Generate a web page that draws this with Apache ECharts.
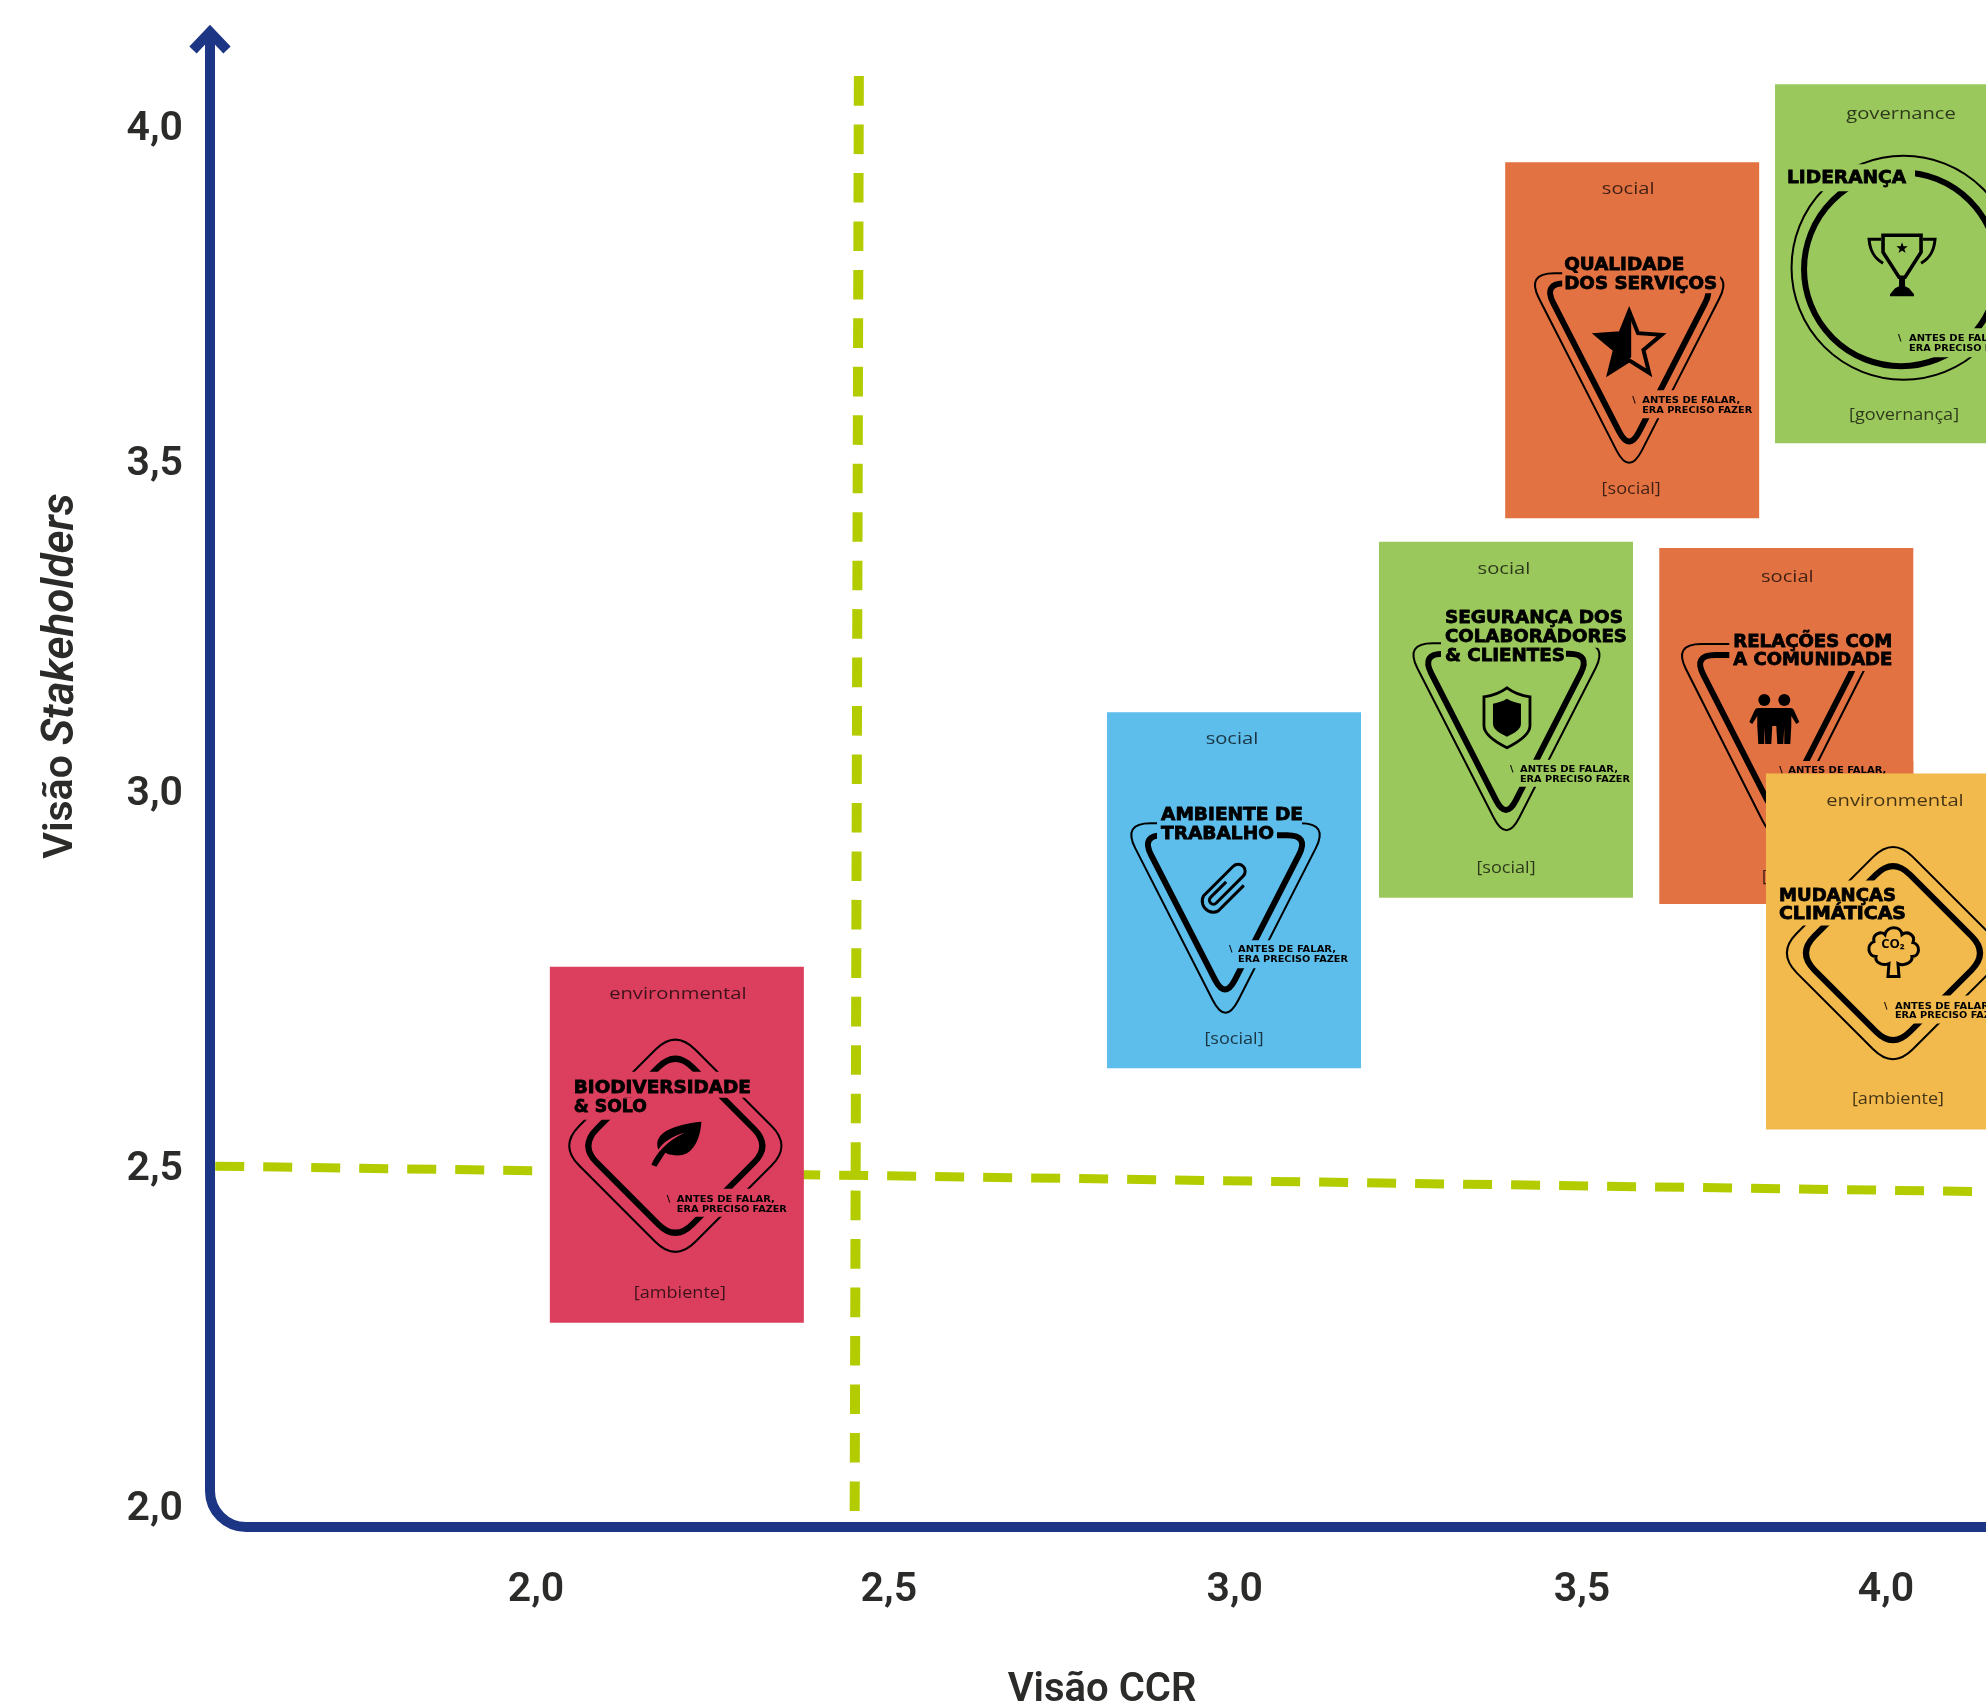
<!DOCTYPE html>
<html><head><meta charset="utf-8">
<style>html,body{margin:0;padding:0;background:#fff;overflow:hidden}#c{width:1986px;height:1706px}</style>
<script src="https://cdn.jsdelivr.net/npm/echarts@6/dist/echarts.min.js"></script>
</head><body><div id="c"></div>
<script>
// ---- data ----
const xTickLabels = ['2,0','2,5','3,0','3,5','4,0'];
const xTickValues = [2.0, 2.506, 3.002, 3.5, 3.936];
const yTickLabels = ['2,0','2,5','3,0','3,5','4,0'];
const yTickValues = [1.993, 2.486, 3.029, 3.507, 3.993];
const cardX = [2.202, 3.001, 3.391, 3.572, 3.959, 3.793, 3.946];
const cardY = [2.522, 2.891, 3.138, 3.688, 3.799, 3.129, 2.802];
const cardTitles = [
  ['BIODIVERSIDADE','& SOLO'],
  ['AMBIENTE DE','TRABALHO'],
  ['SEGURANÇA DOS','COLABORADORES','& CLIENTES'],
  ['QUALIDADE','DOS SERVIÇOS'],
  ['LIDERANÇA'],
  ['RELAÇÕES COM','A COMUNIDADE'],
  ['MUDANÇAS','CLIMÁTICAS']
];
const cardTop = ['environmental','social','social','social','governance','social','environmental'];
const cardBottom = ['[ambiente]','[social]','[social]','[social]','[governança]','[social]','[ambiente]'];
const cardColors = ['#DC3F5D','#5DBDEB','#9BC85C','#E37243','#9BC85C','#E37243','#F2B94C'];
const vRefX = [2.463, 2.457];
const vRefY = [4.071, 1.991];
const hRefX = [1.540, 4.079];
const hRefY = [2.491, 2.454];
const taglineLines = ['ANTES DE FALAR,','ERA PRECISO FAZER'];

// ---- axis ranges and styles ----
const xMin = 1.5325, xMax = 4.0794, yMin = 1.968, yMax = 4.145;
const NAVY = '#1C3584', LIME = '#B2CC00', INK = '#2B2B2A';
const CW = 254, CH = 356, TEXT_DY = 1.5;

function roundedPoly(pts, d) {
  const n = pts.length; let s = '';
  for (let i = 0; i < n; i++) {
    const p = pts[i], a = pts[(i + n - 1) % n], b = pts[(i + 1) % n];
    const la = Math.hypot(a[0]-p[0], a[1]-p[1]), lb = Math.hypot(b[0]-p[0], b[1]-p[1]);
    const s1 = [p[0]+(a[0]-p[0])*d/la, p[1]+(a[1]-p[1])*d/la];
    const s2 = [p[0]+(b[0]-p[0])*d/lb, p[1]+(b[1]-p[1])*d/lb];
    s += (i ? 'L' : 'M') + s1[0] + ' ' + s1[1] + 'Q' + p[0] + ' ' + p[1] + ' ' + s2[0] + ' ' + s2[1];
  }
  return s + 'Z';
}
const tri = (cx, top, hw, h, d) => roundedPoly([[cx-hw,top],[cx+hw,top],[cx,top+h]], d);
const dia = (cx, cy, h, d) => roundedPoly([[cx,cy-h],[cx+h,cy],[cx,cy+h],[cx-h,cy]], d);

function starPts(R, r) {
  const out = [];
  for (let i = 0; i < 10; i++) {
    const a = (-90 + 36*i) * Math.PI/180, q = i % 2 ? r : R;
    out.push([q*Math.cos(a), q*Math.sin(a)]);
  }
  return out;
}
const polyPath = pts => 'M' + pts.map(p => p[0] + ' ' + p[1]).join('L') + 'Z';
const ICON_STYLES = {f:{fill:'#000'}, s:w=>({fill:'none',stroke:'#000',lineWidth:w})};

function icon(type, x, y) {
  const P = (d, style, extra) => Object.assign({type:'path', x, y, shape:{pathData:d}, style}, extra||{});
  const sp = starPts;
  if (type === 'star') {
    const o = sp(34, 15);
    return [P(polyPath(o), ICON_STYLES.s(4)), P(polyPath([[2,o[0][1]],o[9],o[8],o[7],o[6],[2,o[5][1]-3]]), ICON_STYLES.f)];
  }
  if (type === 'trophy') return [
    P('M-19 -29L19 -29L19 -12L3 13L-3 13L-19 -12Z', ICON_STYLES.s(3.6)),
    P(polyPath(sp(6,2.4).map(p=>[p[0],p[1]-16])), ICON_STYLES.f),
    P('M-3 12L3 12L3 22L7 24L12 30L12 32L-12 32L-12 30L-7 24L-3 22Z', ICON_STYLES.f),
    P('M-21 -25L-33 -25C-32 -13 -28 -6 -19 -1', ICON_STYLES.s(3)),
    P('M21 -25L33 -25C32 -13 28 -6 19 -1', ICON_STYLES.s(3))
  ];
  if (type === 'shield') return [
    P('M0 -30C8 -24 16 -22 23 -21L23 8C23 17 10 25 0 30C-10 25 -23 17 -23 8L-23 -21C-16 -22 -8 -24 0 -30Z', ICON_STYLES.s(2.8)),
    P('M0 -19C5 -16 10 -15 14 -14L14 6C14 12 6 16 0 19C-6 16 -14 12 -14 6L-14 -14C-10 -15 -5 -16 0 -19Z', ICON_STYLES.f)
  ];
  if (type === 'people') return [
    {type:'circle', x, y, shape:{cx:-10,cy:-19,r:6}, style:ICON_STYLES.f},
    {type:'circle', x, y, shape:{cx:10,cy:-19,r:6}, style:ICON_STYLES.f},
    P('M-16 -11L16 -11Q19 -11 20 -8L25 3L22 5L17 -3L17 7L16 25L10 25L10 8L9 25L3 25L2 7L-2 7L-3 25L-9 25L-10 8L-10 25L-16 25L-17 7L-17 -3L-22 5L-25 3L-20 -8Q-19 -11 -16 -11Z', ICON_STYLES.f)
  ];
  if (type === 'clip') return [
    P('M6 -3L-16 -3A4 4 0 0 0 -16 5L22 5A7 7 0 0 0 22 -9L-20 -9A11 11 0 0 0 -20 12L16 12', ICON_STYLES.s(3), {rotation:Math.PI*0.25})
  ];
  if (type === 'leaf') return [
    P('M25 -23C24 -4 15 15 -5 10C-7 10 -9 9 -11 8L-20 22L-25 20C-20 8 -10 -3 8 -12C-5 -8 -14 -2 -18 5C-24 -12 -3 -20 25 -23Z', ICON_STYLES.f)
  ];
  if (type === 'cloud') return [
    P('M-5 29L-4 16C-12 19 -18 14 -17 9C-25 9 -27 -3 -19 -6C-21 -14 -11 -17 -8 -13C-6 -22 8 -22 9 -13C14 -17 23 -13 20 -5C28 -3 27 9 19 9C20 15 11 19 5 16L6 29Z', ICON_STYLES.s(3)),
    {type:'text', x, y:y-3, style:{text:'CO₂', font:'bold 13px "Open Sans"', fill:'#000', align:'center', verticalAlign:'middle'}}
  ];
  return [];
}

const layouts = [
 { top:[128,26], bot:[130,325], tx:24, lines:[[177,120],[73,139]],
   tag:{s:117,l:127,y:231,dy:10}, icon:['leaf',126.5,178],
   cuts:[[18,105,189,26],[15,131,150,22],[112,222,128,28]],
   badge:[dia(125.5,179,116,28), dia(125.5,179,95.5,24)] },
 { top:[125,26], bot:[127,326], tx:54, lines:[[142,102],[113,121]],
   tag:{s:122,l:131,y:236,dy:10}, icon:['clip',117,176],
   cuts:[[50,90,145,23],[50,113,120,20],[118,228,132,28]],
   badge:[tri(118.5,111,103,202,28), tri(118,123,84,164,22)] },
 { top:[125,26], bot:[127,325], tx:66, lines:[[178,75.5],[182,94],[120,113]],
   tag:{s:131,l:141,y:226,dy:10}, icon:['shield',128,176],
   cuts:[[62,95,157,11],[62,106,125,15],[125,218,128,27]],
   badge:[tri(127.5,101.5,101.8,199.5,28), tri(127,112,84.7,166,22)] },
 { top:[123,26], bot:[126,326], tx:59, lines:[[120,102],[153,121]],
   tag:{s:127,l:137,y:237,dy:10}, icon:['star',124,183],
   cuts:[[57,92,158,39],[120,228,130,28]],
   badge:[tri(124,111,103,202,28), tri(124,121,86,168,22)] },
 { top:[126,29], bot:[129,330], tx:12, lines:[[119,93]], h:359,
   tag:{s:123,l:134,y:253,dy:9.5}, icon:['trophy',127,180],
   cuts:[[5,80,135,27],[118,244,136,29]],
   circles:[[128.5,183.5,112,2],[126,185,97,6]] },
 { top:[128,28], bot:[132,328], tx:74, lines:[[159,93],[159,111]],
   tag:{s:120,l:129,y:221,dy:10}, icon:['people',115,171],
   cuts:[[70,78,170,45],[115,213,139,27]],
   badge:[tri(116,96,102,202,28), tri(117.5,107,83.5,164,22)] },
 { top:[129,26], bot:[132,324], tx:13, lines:[[117,121],[127,139]],
   tag:{s:118,l:129,y:231,dy:9.5}, icon:['cloud',127,174],
   cuts:[[10,107,135,45],[113,222,141,28]],
   badge:[dia(127,179.5,116,28), dia(127,179.5,95.5,24)] }
];

const measure = document.createElement('canvas').getContext('2d');
function fitted(text, font, width, x, y, extra) {
  measure.font = font;
  const k = width / measure.measureText(text).width;
  return Object.assign({type:'text', x, y:y+TEXT_DY, scaleX:k,
    style:{text, font, fill:'#000', align:'left', verticalAlign:'middle'}}, extra||{});
}
const TITLE_FONT = 'bold 18px "DejaVu Sans"';
const TAG_FONT = 'bold 9.5px "DejaVu Sans"';
const SMALL_FONT = '16px "Open Sans"';
const SMALL_FILL = 'rgba(0,0,0,0.72)';

function renderCard(params, api) {
  const i = params.dataIndex, L = layouts[i], col = cardColors[i];
  const c = api.coord([api.value(0), api.value(1)]);
  const h = L.h || CH;
  const kids = [{type:'rect', shape:{x:0,y:0,width:CW,height:h}, style:{fill:col}}];
  const smallText = (t, p, k) => ({type:'text', x:p[0], y:p[1]+TEXT_DY, scaleX:k,
    style:{text:t, font:SMALL_FONT, fill:SMALL_FILL, align:'center', verticalAlign:'middle'}});
  kids.push(smallText(cardTop[i], L.top, 1.26), smallText(cardBottom[i], L.bot, 1.13));
  if (L.badge) {
    kids.push({type:'path', shape:{pathData:L.badge[0]}, style:{fill:'none',stroke:'#000',lineWidth:2}});
    kids.push({type:'path', shape:{pathData:L.badge[1]}, style:{fill:'none',stroke:'#000',lineWidth:6}});
  }
  if (L.circles) L.circles.forEach(q => kids.push({type:'circle', shape:{cx:q[0],cy:q[1],r:q[2]},
    style:{fill:'none',stroke:'#000',lineWidth:q[3]}}));
  L.cuts.forEach(q => kids.push({type:'rect', shape:{x:q[0],y:q[1],width:q[2],height:q[3]}, style:{fill:col}}));
  icon(L.icon[0], L.icon[1], L.icon[2]).forEach(k => kids.push(k));
  cardTitles[i].forEach((t, j) => {
    const el = fitted(t, TITLE_FONT, L.lines[j][0], L.tx, L.lines[j][1]);
    el.style.stroke = '#000'; el.style.lineWidth = 0.8;
    kids.push(el);
  });
  kids.push({type:'text', x:L.tag.s, y:L.tag.y+TEXT_DY, style:{text:'\\', font:TAG_FONT, fill:'#000', align:'left', verticalAlign:'middle'}});
  kids.push(fitted(taglineLines[0], TAG_FONT, 98, L.tag.l, L.tag.y));
  kids.push(fitted(taglineLines[1], TAG_FONT, 110, L.tag.l, L.tag.y + L.tag.dy));
  return {type:'group', x:c[0]-CW/2, y:c[1]-h/2, children:kids};
}

function renderFrame(params, api) {
  const o = api.coord([xMin, yMin]), t = api.coord([xMin, yMax]), e = api.coord([xMax, yMin]);
  const r = 36;
  const x = o[0], y = o[1];
  return {type:'group', children:[
    {type:'path', shape:{pathData:`M${x} ${t[1]+10}L${x} ${y-r}A${r} ${r} 0 0 0 ${x+r} ${y}L${e[0]} ${y}`},
     style:{fill:'none', stroke:NAVY, lineWidth:10}},
    {type:'path', shape:{pathData:`M${x-17} ${t[1]+25}L${x} ${t[1]+7}L${x+17} ${t[1]+25}`},
     style:{fill:'none', stroke:NAVY, lineWidth:10, lineJoin:'miter', miterLimit:4}}
  ]};
}

const labelFont = {fontFamily:'Roboto', fontSize:41, fontWeight:600, color:INK};
const xNameFont = {fontFamily:'Roboto', fontSize:40, fontWeight:600, color:INK};
const yNameFont = {fontFamily:'Roboto', fontSize:41, fontWeight:600, color:INK};

const chart = echarts.init(document.getElementById('c'), null, {renderer:'canvas', width:1986, height:1706});
chart.setOption({
  animation:false,
  backgroundColor:'#fff',
  grid:{left:210, right:0, top:25, bottom:179, containLabel:false, outerBoundsMode:'none'},
  xAxis:{type:'value', min:xMin, max:xMax, name:'Visão CCR', nameLocation:'middle', nameGap:144,
    nameTextStyle:Object.assign({padding:[0,0,0,8]}, xNameFont), axisLine:{show:false}, axisTick:{show:false}, splitLine:{show:false},
    axisLabel:Object.assign({margin:43, customValues:xTickValues,
      formatter:v => xTickLabels[xTickValues.indexOf(v)]}, labelFont)},
  yAxis:{type:'value', min:yMin, max:yMax, name:'Visão {i|Stakeholders}', nameLocation:'middle', nameRotate:90, nameGap:126,
    nameTextStyle:Object.assign({padding:[0,0,0,200], rich:{i:{fontStyle:'italic', fontFamily:'Roboto', fontSize:44, fontWeight:600, color:INK}}}, yNameFont),
    axisLine:{show:false}, axisTick:{show:false}, splitLine:{show:false},
    axisLabel:Object.assign({margin:27, customValues:yTickValues,
      formatter:v => yTickLabels[yTickValues.indexOf(v)]}, labelFont)},
  series:[
    {type:'line', z:2, symbol:'none', silent:true, data:vRefX.map((x,i)=>[x,vRefY[i]]),
     lineStyle:{color:LIME, width:10, type:[29.6,18.86]}},
    {type:'line', z:2, symbol:'none', silent:true, data:hRefX.map((x,i)=>[x,hRefY[i]]),
     lineStyle:{color:LIME, width:9, type:[29,19]}},
    {type:'custom', z:3, silent:true, clip:false, data:[[xMin,yMin]], renderItem:renderFrame},
    {type:'custom', z:4, silent:true, clip:false, data:cardX.map((x,i)=>[x,cardY[i]]),
     encode:{x:0,y:1}, renderItem:renderCard}
  ]
});
</script></body></html>
